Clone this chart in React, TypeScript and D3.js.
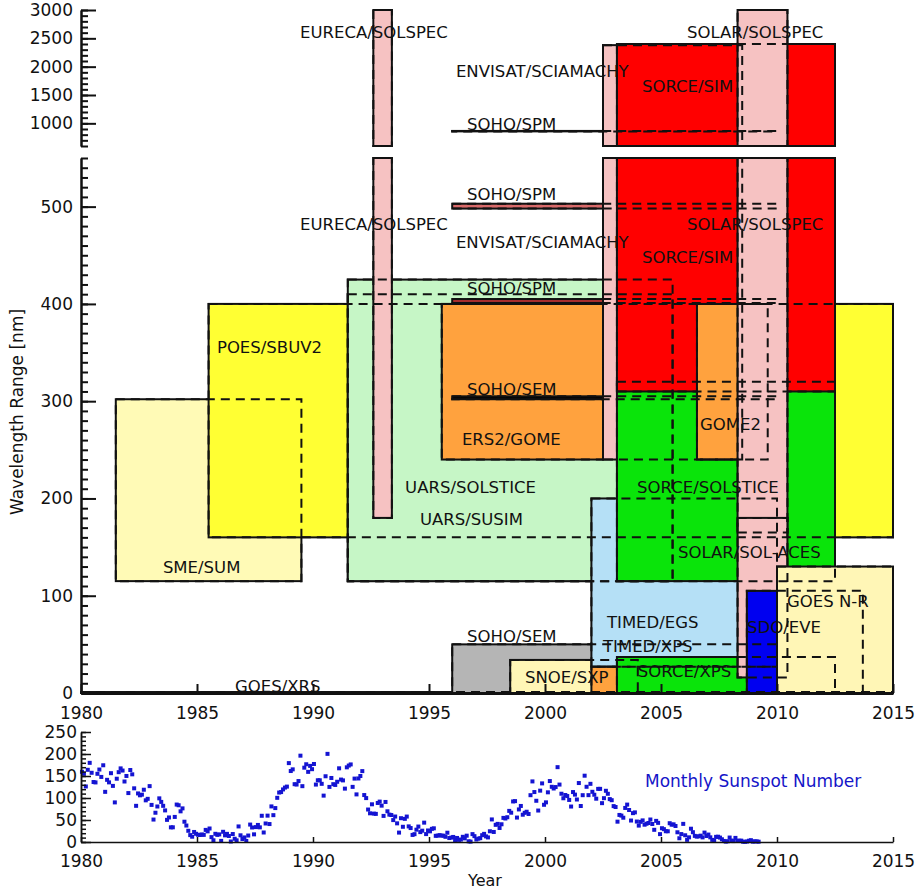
import React, { useEffect, useRef } from 'react';
import * as d3 from 'd3';

// instruments, in drawing order (later ones sit on top)
const instruments = [
  'GOES/XRS', 'SME/SUM', 'POES/SBUV2', 'UARS/SUSIM', 'UARS/SOLSTICE', 'EURECA/SOLSPEC',
  'ERS2/GOME', 'SOHO/SEM', 'SOHO/SEM 304', 'SOHO/SPM 402', 'SOHO/SPM 500', 'SOHO/SPM 862',
  'SNOE/SXP', 'TIMED/EGS', 'TIMED/XPS', 'ENVISAT/SCIAMACHY', 'SORCE/SOLSTICE', 'SORCE/SIM',
  'SORCE/XPS', 'GOME2', 'SOLAR/SOLSPEC', 'SOLAR/SOL-ACES', 'SDO/EVE', 'GOES N-R'
];
const startYear = [1980, 1981.5, 1985.5, 1991.5, 1991.5, 1992.6, 1995.55, 1996, 1996, 1996, 1996, 1996,
  1998.5, 2002, 2002, 2002.5, 2003.1, 2003.1, 2003.1, 2006.55, 2008.3, 2008.3, 2008.7, 2010];
const endYear = [2015, 1989.5, 2015, 2005.5, 2005.5, 1993.4, 2002.5, 2010, 2010, 2010, 2010, 2010,
  2004, 2010, 2010, 2008.5, 2012.5, 2012.5, 2012.5, 2009.6, 2010.45, 2010.45, 2013.7, 2015];
const minNm = [0, 115, 160, 115, 115, 180, 240, 0, 302, 401, 498, 858,
  0, 27, 0, 240, 115, 310, 0, 240, 165, 16, 0, 0];
const maxNm = [1, 302, 400, 410, 425, 3000, 400, 50, 305, 405, 503, 866,
  34, 200, 27, 2380, 320, 2400, 37, 400, 3000, 180, 105, 130];

// label text and anchor (year, nm)
const labelText = [
  'EURECA/SOLSPEC', 'EURECA/SOLSPEC', 'ENVISAT/SCIAMACHY', 'ENVISAT/SCIAMACHY',
  'SOLAR/SOLSPEC', 'SOLAR/SOLSPEC', 'SORCE/SIM', 'SORCE/SIM',
  'SOHO/SPM', 'SOHO/SPM', 'SOHO/SPM', 'SOHO/SEM', 'ERS2/GOME', 'GOME2',
  'POES/SBUV2', 'SME/SUM', 'UARS/SOLSTICE', 'UARS/SUSIM', 'SORCE/SOLSTICE',
  'SOLAR/SOL-ACES', 'TIMED/EGS', 'TIMED/XPS', 'SOHO/SEM', 'SNOE/SXP',
  'SORCE/XPS', 'SDO/EVE', 'GOES N-R', 'GOES/XRS'
];
const labelYear = [1989.44, 1989.44, 1996.16, 1996.16, 2006.12, 2006.12, 2004.18, 2004.18,
  1996.64, 1996.64, 1996.64, 1996.64, 1996.42, 2006.68, 1985.86, 1983.53, 1993.97, 1994.61,
  2003.97, 2005.73, 2002.67, 2002.5, 1996.64, 1999.14, 2004.0, 2008.71, 2010.43, 1986.64];
const labelNm = [2506, 476, 1818, 457, 2506, 476, 1553, 442,
  882, 507, 410, 306, 255, 270, 350, 123, 206, 173,
  206, 139, 67, 42, 52, 10, 16, 62, 88, 1];

// axis ticks
const yearTicks = [1980, 1985, 1990, 1995, 2000, 2005, 2010, 2015];
const lowerTicks = [0, 100, 200, 300, 400, 500];
const upperTicks = [1000, 1500, 2000, 2500, 3000];
const ssnTicks = [0, 50, 100, 150, 200, 250];

// monthly sunspot number, Jan 1980 onwards
const ssn1980s = [
  159.6, 155.0, 126.2, 164.1, 179.9, 157.3, 136.3, 135.4, 155.0, 164.7, 147.9, 174.4,
  114.0, 141.3, 135.5, 156.4, 127.5, 90.0, 143.8, 158.7, 167.3, 162.4, 137.5, 150.1,
  111.2, 163.6, 153.8, 122.0, 82.2, 110.4, 106.1, 107.6, 118.8, 94.7, 98.1, 127.0,
  84.3, 51.0, 66.5, 80.7, 99.2, 91.1, 82.2, 71.8, 50.3, 55.8, 33.3, 33.4,
  57.0, 85.1, 83.5, 69.7, 76.4, 46.1, 37.4, 25.5, 15.7, 12.0, 22.8, 18.7,
  16.5, 15.9, 17.2, 16.2, 27.5, 24.2, 30.7, 11.1, 3.9, 18.6, 16.2, 17.3,
  2.5, 23.2, 15.1, 18.5, 13.7, 1.1, 18.1, 7.4, 3.8, 35.4, 15.2, 6.8,
  10.4, 2.4, 14.7, 39.6, 33.0, 17.4, 33.9, 38.8, 33.3, 59.6, 21.6, 42.1,
  59.9, 40.8, 80.9, 61.0, 77.1, 100.4, 112.4, 113.5, 119.5, 123.7, 125.9, 179.3,
  161.3, 165.1, 131.4, 130.6, 138.5, 196.2, 126.9, 168.9, 176.7, 159.4, 173.0, 165.5
];
const ssn1990s = [
  177.3, 130.5, 140.3, 140.3, 132.2, 105.4, 149.4, 200.3, 125.2, 145.5, 131.4, 129.7,
  136.9, 167.5, 141.9, 140.0, 121.3, 169.7, 173.7, 176.3, 125.3, 144.1, 108.2, 144.4,
  150.0, 161.1, 106.7, 99.8, 73.8, 65.2, 85.7, 64.5, 63.9, 88.7, 91.8, 82.6,
  59.3, 91.0, 69.8, 62.2, 61.3, 49.8, 57.9, 42.4, 21.4, 54.1, 34.6, 52.6,
  57.8, 35.5, 31.7, 16.1, 17.8, 28.0, 35.1, 22.5, 25.7, 44.0, 18.0, 26.2,
  24.2, 29.9, 31.1, 14.0, 14.5, 15.6, 14.5, 14.3, 11.8, 21.1, 9.0, 10.0,
  11.5, 4.4, 9.2, 4.8, 5.5, 11.8, 8.2, 14.4, 1.6, 0.9, 17.9, 13.3,
  5.7, 7.6, 8.7, 15.5, 18.5, 12.7, 10.4, 24.4, 51.3, 22.8, 39.0, 41.2,
  31.9, 40.3, 54.8, 53.4, 56.3, 70.7, 66.6, 92.2, 92.9, 55.5, 74.0, 81.9,
  62.0, 66.3, 68.8, 63.7, 106.4, 137.7, 113.5, 93.7, 71.5, 116.7, 133.2, 84.6
];
const ssn2000s = [
  90.1, 112.9, 138.5, 125.5, 121.6, 124.9, 170.1, 130.5, 109.7, 99.4, 106.8, 104.4,
  95.6, 80.6, 113.5, 107.7, 96.6, 134.0, 81.8, 106.4, 150.7, 125.5, 106.5, 132.2,
  114.1, 107.4, 98.4, 120.7, 120.8, 88.3, 99.6, 116.4, 109.6, 97.5, 95.0, 81.6,
  79.5, 46.2, 61.5, 60.0, 55.2, 77.4, 85.0, 72.7, 48.8, 65.6, 67.3, 46.5,
  37.3, 45.8, 49.1, 39.3, 41.5, 43.2, 51.1, 40.9, 27.7, 48.0, 43.5, 17.9,
  31.3, 29.2, 24.5, 24.4, 42.7, 39.3, 40.1, 36.4, 22.1, 8.5, 18.0, 41.2,
  15.3, 4.9, 10.6, 30.2, 22.3, 13.9, 12.2, 12.9, 14.4, 10.5, 21.4, 13.6,
  16.9, 10.6, 4.8, 3.7, 11.7, 12.0, 10.0, 6.2, 2.4, 0.9, 1.7, 10.1,
  3.3, 2.1, 9.3, 2.9, 2.9, 3.1, 0.5, 0.5, 1.1, 2.9, 4.1, 0.8,
  1.5, 1.4, 0.7
];

const fillOf: Record<string, string> = {
  'GOES/XRS': '#000000', 'SME/SUM': '#fffab6', 'POES/SBUV2': '#ffff33',
  'UARS/SUSIM': '#c6f6c6', 'UARS/SOLSTICE': '#c6f6c6', 'EURECA/SOLSPEC': '#f6c2c2',
  'ERS2/GOME': '#ffa23e', 'SOHO/SEM': '#b5b5b5', 'SOHO/SEM 304': '#000000',
  'SOHO/SPM 402': '#b03030', 'SOHO/SPM 500': '#d86a6a', 'SOHO/SPM 862': '#000000',
  'SNOE/SXP': '#fff6b6', 'TIMED/EGS': '#b5e0f6', 'TIMED/XPS': '#ffa23e',
  'ENVISAT/SCIAMACHY': '#f6c2c2', 'SORCE/SOLSTICE': '#0ae40a', 'SORCE/SIM': '#ff0000',
  'SORCE/XPS': '#0ae40a', 'GOME2': '#ffa23e', 'SOLAR/SOLSPEC': '#f6c2c2',
  'SOLAR/SOL-ACES': '#f6c2c2', 'SDO/EVE': '#0000f0', 'GOES N-R': '#fff6b6'
};

const FONT = 'DejaVu Sans, Verdana, sans-serif';

const App = () => {
  const svgRef = useRef<SVGSVGElement>(null);

  useEffect(() => {
    const svg = d3.select(svgRef.current);
    svg.selectAll('*').remove();

    const x = d3.scaleLinear().domain([1980, 2015]).range([81, 893]);
    const yLow = d3.scaleLinear().domain([0, 550]).range([693, 158]);
    const yUp = d3.scaleLinear().domain([600, 3000]).range([146, 10]);
    const ySsn = d3.scaleLinear().domain([0, 250]).range([842, 732]);
    const intFmt = d3.format('d');

    const panels = [
      { y: yUp, lo: 600, hi: 3000 },
      { y: yLow, lo: 0, hi: 550 }
    ];

    // split each box into the two broken-axis panels
    const pieces: { name: string; x0: number; x1: number; lo: number; hi: number; y: d3.ScaleLinear<number, number> }[] = [];
    instruments.forEach((name, i) => {
      panels.forEach(p => {
        const lo = Math.max(minNm[i], p.lo);
        const hi = Math.min(maxNm[i], p.hi);
        if (hi > lo) pieces.push({ name, x0: startYear[i], x1: endYear[i], lo, hi, y: p.y });
      });
    });

    const boxes = svg.append('g');
    pieces.forEach(d => {
      boxes.append('rect')
        .attr('x', x(d.x0))
        .attr('y', d.y(d.hi))
        .attr('width', x(d.x1) - x(d.x0))
        .attr('height', d.y(d.lo) - d.y(d.hi))
        .attr('fill', fillOf[d.name])
        .attr('stroke', '#111')
        .attr('stroke-width', 2);
    });

    // labels
    const labels = svg.append('g')
      .attr('font-family', FONT)
      .attr('font-size', 16.5)
      .attr('fill', '#111');
    labelText.forEach((t, i) => {
      const ys = labelNm[i] > 575 ? yUp : yLow;
      labels.append('text')
        .attr('x', x(labelYear[i]))
        .attr('y', ys(labelNm[i]))
        .text(t);
    });

    // hidden edges shown dashed on top
    const dashed = svg.append('g');
    pieces.forEach(d => {
      dashed.append('rect')
        .attr('x', x(d.x0))
        .attr('y', d.y(d.hi))
        .attr('width', x(d.x1) - x(d.x0))
        .attr('height', d.y(d.lo) - d.y(d.hi))
        .attr('fill', 'none')
        .attr('stroke', '#111')
        .attr('stroke-width', 2)
        .attr('stroke-dasharray', '9,6');
    });

    const styleAxis = (g: d3.Selection<SVGGElement, unknown, null, undefined>, w: number) => {
      g.attr('font-family', FONT).attr('font-size', 17);
      g.selectAll('line').attr('stroke', '#111').attr('stroke-width', w);
      g.selectAll('path').attr('stroke', '#111').attr('stroke-width', w);
      g.selectAll('text').attr('fill', '#111');
    };

    // main y axes (broken)
    [{ y: yUp, major: upperTicks, minor: d3.range(600, 3001, 100) },
     { y: yLow, major: lowerTicks, minor: d3.range(0, 551, 10) }].forEach(a => {
      const gMin = svg.append('g').attr('transform', 'translate(81,0)')
        .call(d3.axisLeft(a.y).tickValues(a.minor).tickSize(-7).tickSizeOuter(0).tickFormat(() => ''));
      styleAxis(gMin, 2);
      const gMaj = svg.append('g').attr('transform', 'translate(81,0)')
        .call(d3.axisLeft(a.y).tickValues(a.major).tickSize(-15).tickSizeOuter(0).tickPadding(8).tickFormat(intFmt));
      styleAxis(gMaj, 2);
    });

    const gx = svg.append('g').attr('transform', 'translate(0,693)')
      .call(d3.axisBottom(x).tickValues(yearTicks).tickSize(-9).tickSizeOuter(0).tickPadding(14).tickFormat(intFmt));
    styleAxis(gx, 2);
    gx.select('path').attr('stroke-width', 3);

    svg.append('text')
      .attr('transform', 'translate(23,412) rotate(-90)')
      .attr('text-anchor', 'middle')
      .attr('font-family', FONT)
      .attr('font-size', 17)
      .attr('fill', '#111')
      .text('Wavelength Range [nm]');

    // sunspot panel
    const ssnAll = [...ssn1980s, ...ssn1990s, ...ssn2000s];
    svg.append('g').selectAll('rect')
      .data(ssnAll)
      .enter()
      .append('rect')
      .attr('x', (d, i) => x(1980 + (i + 0.5) / 12) - 2)
      .attr('y', d => ySsn(d) - 2)
      .attr('width', 4)
      .attr('height', 4)
      .attr('fill', '#1414d2');

    const gsMin = svg.append('g').attr('transform', 'translate(81,0)')
      .call(d3.axisLeft(ySsn).tickValues(d3.range(0, 251, 10)).tickSize(-5).tickSizeOuter(0).tickFormat(() => ''));
    styleAxis(gsMin, 1.5);
    const gsMaj = svg.append('g').attr('transform', 'translate(81,0)')
      .call(d3.axisLeft(ySsn).tickValues(ssnTicks).tickSize(-10).tickSizeOuter(0).tickPadding(4).tickFormat(intFmt));
    styleAxis(gsMaj, 1.5);

    const gsx = svg.append('g').attr('transform', 'translate(0,842)')
      .call(d3.axisBottom(x).tickValues(yearTicks).tickSize(-5).tickSizeOuter(0).tickPadding(13).tickFormat(intFmt));
    styleAxis(gsx, 1.5);

    svg.append('text')
      .attr('x', 645)
      .attr('y', 787)
      .attr('font-family', FONT)
      .attr('font-size', 17)
      .attr('fill', '#1515c8')
      .text('Monthly Sunspot Number');

    svg.append('text')
      .attr('x', 485)
      .attr('y', 886)
      .attr('text-anchor', 'middle')
      .attr('font-family', FONT)
      .attr('font-size', 16)
      .attr('fill', '#111')
      .text('Year');
  }, []);

  return (
    <svg
      ref={svgRef}
      width={924}
      height={896}
      style={{ position: 'absolute', left: 0, top: 0, background: '#fff', display: 'block' }}
    />
  );
};

export default App;
